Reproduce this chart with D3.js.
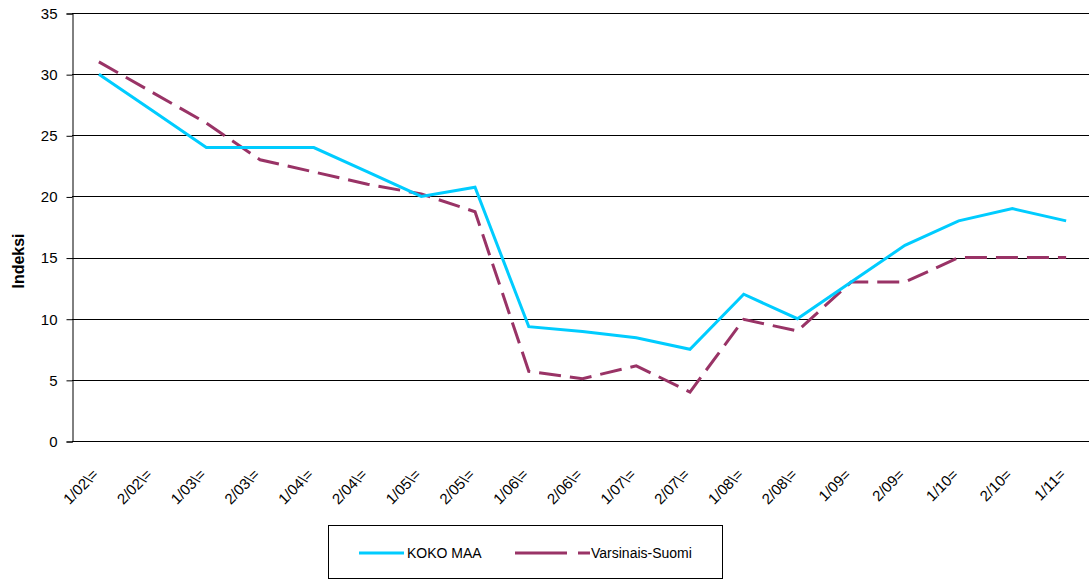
<!DOCTYPE html>
<html><head><meta charset="utf-8">
<script src="https://cdn.jsdelivr.net/npm/d3@7"></script>
<style>body{margin:0;background:#fff;}svg{display:block;font-family:"Liberation Sans",Arial,sans-serif;}</style>
</head><body>
<svg id="c" width="1089" height="581"></svg>
<script>
const categories = ["1/02\\=","2/02\\=","1/03\\=","2/03\\=","1/04\\=","2/04\\=","1/05\\=","2/05\\=","1/06\\=","2/06\\=","1/07\\=","2/07\\=","1/08\\=","2/08\\=","1/09=","2/09=","1/10=","2/10=","1/11="];
const kokoMaa = [30,27,24,24,24,22,20,20.75,9.35,8.95,8.45,7.5,12,10,13,16,18,19,18];
const varsinaisSuomi = [31,28.5,26,23,22,21,20.2,18.75,5.7,5.1,6.15,4.0,9.95,9.0,13,13,15,15,15];
const yTicks = [0,5,10,15,20,25,30,35];
const seriesNames = ["KOKO MAA","Varsinais-Suomi"];

(function(){
const svg = d3.select("#c");
const mLeft = 72, mRight = 1093, mTop = 13, mBottom = 441;
const x = d3.scaleBand().domain(categories).range([mLeft, mRight]);
const y = d3.scaleLinear().domain([0,35]).range([mBottom, mTop]);

// gridlines
svg.append("g").selectAll("line").data(yTicks.filter(d=>d>0)).join("line")
  .attr("x1", mLeft).attr("x2", 1089).attr("y1", d=>Math.round(y(d))+0.5).attr("y2", d=>Math.round(y(d))+0.5)
  .attr("stroke", "#000").attr("stroke-width", 1);

// y axis
const ya = svg.append("g").attr("transform", `translate(${mLeft+0.5},0.5)`)
  .call(d3.axisLeft(y).tickValues(yTicks).tickSize(6).tickPadding(9));
ya.select(".domain").attr("stroke","#000");
ya.selectAll(".tick line").attr("stroke","#000");
ya.selectAll("text").attr("font-size", 15).attr("fill","#000").attr("font-family","Liberation Sans, Arial, sans-serif");

// x axis
svg.append("line").attr("x1", mLeft).attr("x2", 1089).attr("y1", mBottom+0.5).attr("y2", mBottom+0.5).attr("stroke","#000");
svg.append("g").selectAll("text").data(categories).join("text")
  .attr("transform", d => `translate(${x(d)+x.bandwidth()/2-7},${mBottom+27}) rotate(-45)`)
  .attr("text-anchor","end").attr("dy","0.7em")
  .attr("font-size", 15).attr("fill","#000").text(d=>d);

// y title
svg.append("text").attr("transform", `translate(24,${(mTop+mBottom)/2+34}) rotate(-90)`)
  .attr("text-anchor","middle").attr("font-size",16).attr("font-weight","bold").text("Indeksi");

const line = d3.line().x((d,i)=>x(categories[i])+x.bandwidth()/2).y(d=>y(d));
svg.append("path").datum(varsinaisSuomi).attr("d", line).attr("fill","none")
  .attr("stroke","#993366").attr("stroke-width",3).attr("stroke-dasharray","22,9");
svg.append("path").datum(kokoMaa).attr("d", line).attr("fill","none")
  .attr("stroke","#00ccff").attr("stroke-width",3);

// legend
const lg = svg.append("g");
lg.append("rect").attr("x",328.5).attr("y",525.5).attr("width",394).attr("height",53)
  .attr("fill","#fff").attr("stroke","#000").attr("stroke-width",1);
lg.append("line").attr("x1",359).attr("x2",404).attr("y1",553).attr("y2",553).attr("stroke","#00ccff").attr("stroke-width",3);
lg.append("text").attr("x",407).attr("y",558).attr("font-size",14).text(seriesNames[0]);
lg.append("line").attr("x1",515).attr("x2",590).attr("y1",553).attr("y2",553).attr("stroke","#993366").attr("stroke-width",3).attr("stroke-dasharray","52,11");
lg.append("text").attr("x",591).attr("y",558).attr("font-size",14).text(seriesNames[1]);
})();
</script>
</body></html>
